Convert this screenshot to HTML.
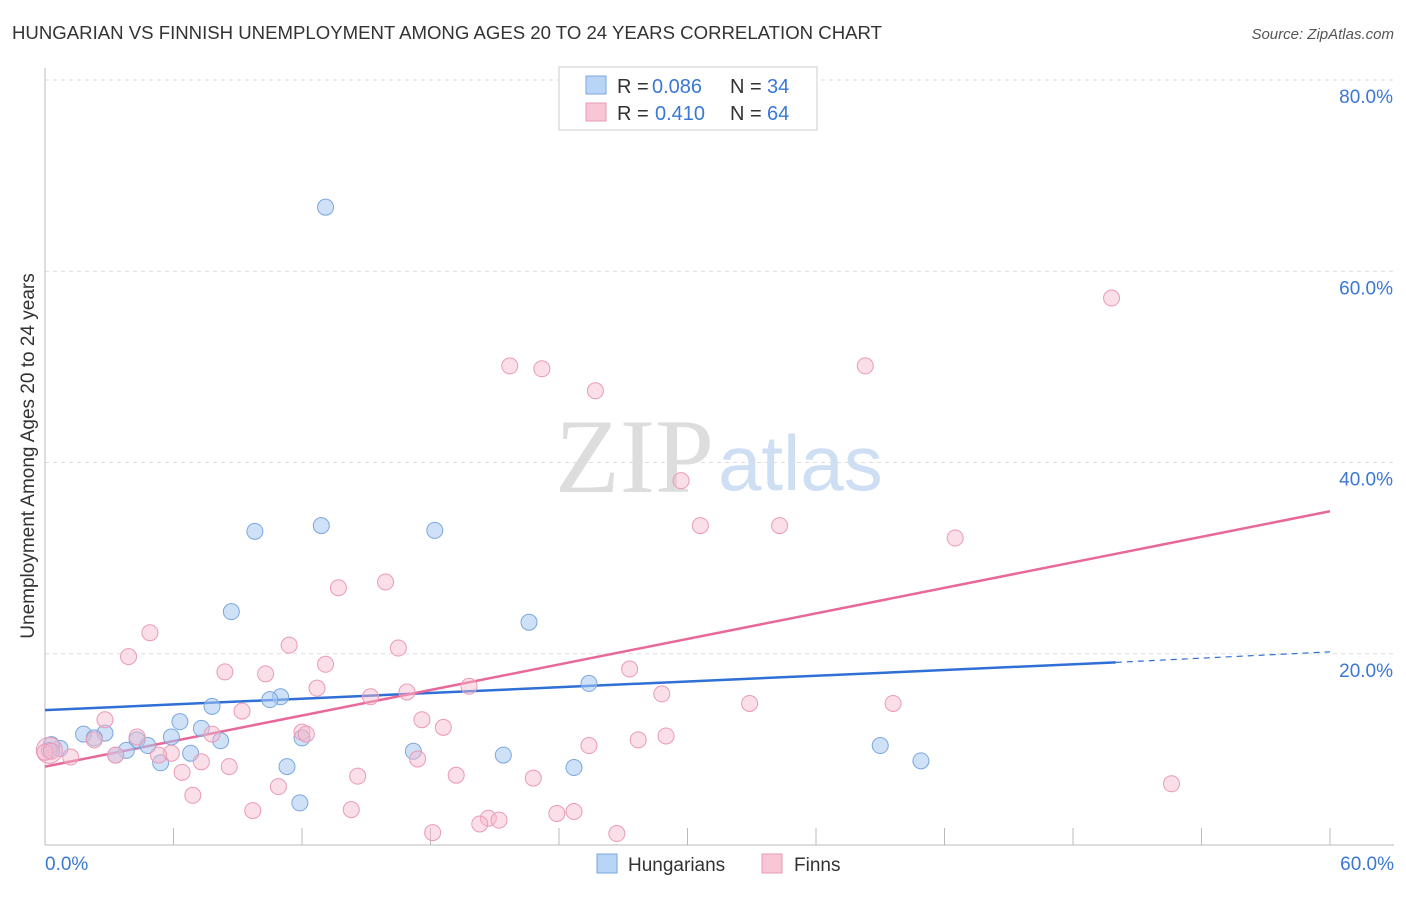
<!DOCTYPE html>
<html><head><meta charset="utf-8"><style>
body{margin:0;background:#fff;font-family:"Liberation Sans",sans-serif}
</style></head><body>
<svg id="c" width="1406" height="892" xmlns="http://www.w3.org/2000/svg" style="font-family:'Liberation Sans',sans-serif">
<text x="12" y="39" font-size="18.6" fill="#333">HUNGARIAN VS FINNISH UNEMPLOYMENT AMONG AGES 20 TO 24 YEARS CORRELATION CHART</text>
<text x="1394" y="39" font-size="15" fill="#555" font-style="italic" text-anchor="end">Source: ZipAtlas.com</text>
<text transform="translate(34,456) rotate(-90)" font-size="19" fill="#333" text-anchor="middle">Unemployment Among Ages 20 to 24 years</text>
<text x="555" y="492" font-size="106" fill="#ddd" font-family="Liberation Serif,serif">ZIP</text>
<text x="718" y="490" font-size="78" fill="#cfdff3">atlas</text>
<g id="grid"></g><g id="axes"></g><g id="lines"></g><g id="pts"></g>
<g>
<rect x="559" y="67" width="258" height="63" fill="#fff" stroke="#ccc"/>
<rect x="586" y="76" width="20" height="18" fill="#b8d4f6" stroke="#7aa7e0"/>
<rect x="586" y="103" width="20" height="18" fill="#f9c6d6" stroke="#eb9ab4"/>
<text x="617" y="93" font-size="20" fill="#333">R = <tspan x="652" fill="#3a78d4">0.086</tspan><tspan x="730">N = </tspan><tspan x="767" fill="#3a78d4">34</tspan></text>
<text x="617" y="120" font-size="20" fill="#333">R = <tspan x="655" fill="#3a78d4">0.410</tspan><tspan x="730">N = </tspan><tspan x="767" fill="#3a78d4">64</tspan></text>
</g>
<g>
<rect x="597" y="854" width="20" height="19" fill="#b8d4f6" stroke="#7aa7e0"/>
<text x="628" y="871" font-size="19" fill="#333">Hungarians</text>
<rect x="762" y="854" width="20" height="19" fill="#f9c6d6" stroke="#eb9ab4"/>
<text x="794" y="871" font-size="19" fill="#333">Finns</text>
</g>
</svg>
<script>
const xTicks=[0,60];
const yTicks=[20,40,60,80];
const hunX=[13.1,9.8,12.9,18.2,8.7,22.6,25.4,11.0,10.5,7.8,6.3,7.3,5.9,2.8,1.8,4.3,8.2,12.0,2.3,4.8,3.8,6.8,3.3,0.7,0.3,0.2,5.4,11.3,17.2,21.4,24.7,39.0,40.9,11.9];
const hunY=[66.7,32.8,33.4,32.9,24.4,23.3,16.9,15.5,15.2,14.5,12.9,12.2,11.3,11.7,11.6,11.0,10.9,11.2,11.2,10.4,9.9,9.6,9.4,10.1,10.5,9.9,8.6,8.2,9.8,9.4,8.1,10.4,8.8,4.4];
const finX=[49.8,21.7,23.2,38.3,25.7,29.7,30.6,34.3,42.5,15.9,13.7,4.9,3.9,11.4,16.5,13.1,8.4,10.3,12.7,16.9,19.8,15.2,27.3,28.8,32.9,39.6,2.8,9.2,7.8,4.3,12.0,12.2,17.6,18.6,25.4,27.7,29.0,2.3,3.3,5.9,5.3,1.2,7.3,17.4,6.4,8.6,14.6,19.2,22.8,52.6,10.9,6.9,9.7,14.3,20.7,21.2,20.3,23.9,24.7,18.1,26.7,0.2,0.0,0.3];
const finY=[57.2,50.1,49.8,50.1,47.5,38.1,33.4,33.4,32.1,27.5,26.9,22.2,19.7,20.9,20.6,18.9,18.1,17.9,16.4,16.0,16.6,15.5,18.4,15.8,14.8,14.8,13.1,14.0,11.6,11.3,11.8,11.6,13.1,12.3,10.4,11.0,11.4,11.0,9.4,9.6,9.4,9.2,8.7,9.0,7.6,8.2,7.2,7.3,7.0,6.4,6.1,5.2,3.6,3.7,2.8,2.6,2.2,3.3,3.5,1.3,1.2,9.9,9.7,9.8];
const hunTrend=[14.1,19.1,20.2]; const hunTrendX=[0,50,60];
const finTrend=[8.2,34.9]; const finTrendX=[0,60];
const NS='http://www.w3.org/2000/svg';
const X=v=>45+v*(1285/60), Y=v=>845-v*(765/80);
function mk(t,a,p){const e=document.createElementNS(NS,t);for(const k in a)e.setAttribute(k,a[k]);p.appendChild(e);return e;}
const g=document.getElementById('grid'),ax=document.getElementById('axes'),ln=document.getElementById('lines'),pt=document.getElementById('pts');
yTicks.forEach(v=>{const l=mk('line',{x1:45,x2:1394,y1:Y(v),y2:Y(v),stroke:'#ddd','stroke-dasharray':'4,4'},g);


const t=mk('text',{x:1393,y:Y(v)+23,'font-size':19,fill:'#3a78d4','text-anchor':'end'},g);t.textContent=v.toFixed(1)+'%';

});
mk('line',{x1:45,x2:45,y1:68,y2:845,stroke:'#bbb'},ax);
mk('line',{x1:45,x2:1394,y1:845,y2:845,stroke:'#bbb'},ax);
for(let i=0;i<=10;i++){const x=X(i*6);mk('line',{x1:x,x2:x,y1:828,y2:845,stroke:'#bbb'},ax);}
xTicks.forEach((v,i)=>{const t=mk('text',{x:i?1394:45,y:870,'font-size':19,fill:'#3a78d4','text-anchor':i?'end':'start'},ax);t.textContent=v.toFixed(1)+'%';

});
hunX.forEach((v,i)=>{const c=mk('circle',{cx:X(v),cy:Y(hunY[i]),r:8,fill:'rgba(168,200,240,0.55)',stroke:'#7aa7e0','stroke-width':1},pt);

});
finX.forEach((v,i)=>{const c=mk('circle',{cx:X(v),cy:Y(finY[i]),r:i>=61?(i==61?13:8):8,fill:'rgba(247,184,204,0.45)',stroke:'#eb9ab4','stroke-width':1},pt);

});
let l1=mk('line',{x1:X(hunTrendX[0]),y1:Y(hunTrend[0]),x2:X(hunTrendX[1]),y2:Y(hunTrend[1]),stroke:'#2f6fd6','stroke-width':2.5},ln);


let l2=mk('line',{x1:X(hunTrendX[1]),y1:Y(hunTrend[1]),x2:X(hunTrendX[2]),y2:Y(hunTrend[2]),stroke:'#2f6fd6','stroke-width':1.2,'stroke-dasharray':'6,5'},ln);


let l3=mk('line',{x1:X(finTrendX[0]),y1:Y(finTrend[0]),x2:X(finTrendX[1]),y2:Y(finTrend[1]),stroke:'#e8689a','stroke-width':2.5},ln);


</script>
</body></html>
